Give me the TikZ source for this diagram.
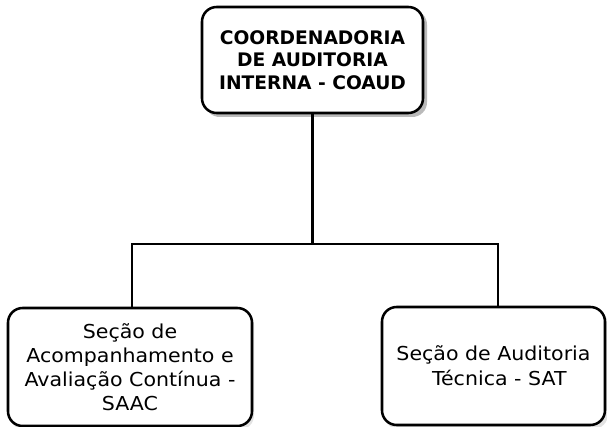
\documentclass[tikz,border=0pt]{standalone}
\usepackage{fontspec}
\setmainfont{DejaVu Sans}
\newfontfamily\bodyfont[FakeStretch=1.07]{DejaVu Sans}
\begin{document}
\begin{tikzpicture}[x=0.75pt,y=-0.75pt,
  box/.style={draw=black,line width=1.9pt,fill=white,rounded corners=11pt,align=center,inner sep=0pt},
  shadowbox/.style={fill=black!45,rounded corners=11pt},
  conn/.style={draw=black,line width=1.9pt}]
\useasboundingbox (0,0) rectangle (607,427);
% shadows
\fill[shadowbox,opacity=0.6] (205,10) rectangle (427,117);
\fill[shadowbox,opacity=0.25] (10,310) rectangle (254,430);
\fill[shadowbox,opacity=0.25] (384,310) rectangle (608,429);
\node[box,minimum width=221*0.75pt,minimum height=106*0.75pt,font=\fontsize{14}{17}\selectfont\bfseries] (top) at (312.5,60)
  {COORDENADORIA\\DE AUDITORIA\\INTERNA - COAUD};
\node[box,minimum width=244*0.75pt,minimum height=118*0.75pt,font=\bodyfont\fontsize{14.4}{18}\selectfont] (left) at (130,367)
  {Seção de\\Acompanhamento e\\Avaliação Contínua -\\SAAC};
\node[box,minimum width=223*0.75pt,minimum height=118*0.75pt,font=\bodyfont\fontsize{14.4}{18.5}\selectfont] (right) at (493.5,366)
  {Seção de Auditoria\\\hspace*{0.6em}Técnica - SAT};
\coordinate (busL) at (132,244);
\coordinate (busR) at (498,244);
\draw[conn] (top.south) -- (top.south |- busL);
\draw[conn] (busL |- left.north) -- (busL) -- (busR) -- (busR |- right.north);
\end{tikzpicture}
\end{document}
